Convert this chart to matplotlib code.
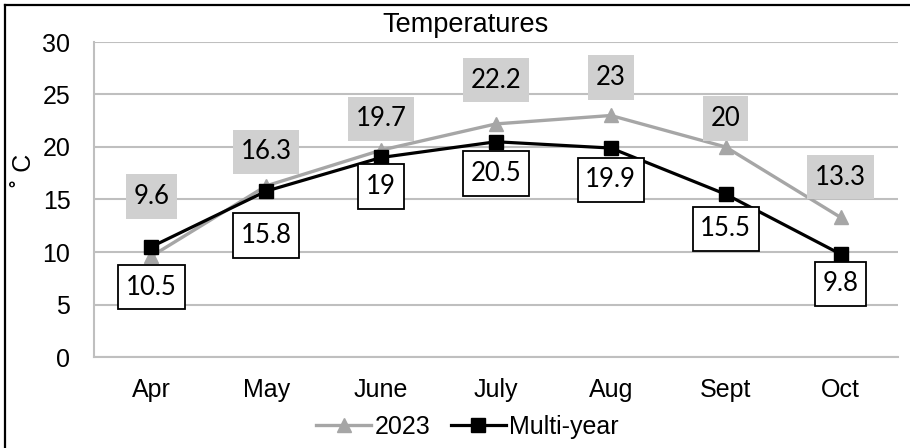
import matplotlib
matplotlib.use("Agg")
import matplotlib.pyplot as plt
from matplotlib.path import Path
from matplotlib.lines import Line2D

months = ["Apr", "May", "June", "July", "Aug", "Sept", "Oct"]
temp_2023 = [9.6, 16.3, 19.7, 22.2, 23, 20, 13.3]
temp_multi = [10.5, 15.8, 19, 20.5, 19.9, 15.5, 9.8]

# label offsets (points) above / below each marker
off_2023 = [43, 24.5, 22.5, 31.5, 27.5, 20.5, 29]
off_multi = [-29, -32, -21, -23, -23, -25, -21.5]

plt.rcParams["font.family"] = ["Liberation Sans", "DejaVu Sans"]


def label_box(x0, y0, width, height, mutation_size):
    """Rectangle with separate horizontal and vertical padding."""
    px = 0.30 * mutation_size
    py = 0.38 * mutation_size
    x1, y1 = x0 - px, y0 - py
    x2, y2 = x0 + width + px, y0 + height + py
    return Path([(x1, y1), (x2, y1), (x2, y2), (x1, y2), (x1, y1)],
                [Path.MOVETO, Path.LINETO, Path.LINETO, Path.LINETO, Path.CLOSEPOLY])


fig = plt.figure(figsize=(9.1, 4.48), dpi=100)
ax = fig.add_axes([94 / 910, 1 - 357 / 448, 804 / 910, 315 / 448])

x = list(range(len(months)))
grid_c = "#bfbfbf"
gray = "#a6a6a6"

ax.plot(x, temp_2023, color=gray, lw=2.4, marker="^", ms=10, mfc=gray, mec=gray,
        label="2023", zorder=3)
ax.plot(x, temp_multi, color="black", lw=2.3, marker="s", ms=10, mfc="black", mec="black",
        label="Multi-year", zorder=4)

label_font = dict(family=["Lato", "DejaVu Sans"], fontsize=18.5)
for xi, v, o in zip(x, temp_2023, off_2023):
    ax.annotate(f"{v:g}", (xi, v), xytext=(0, o), textcoords="offset points",
                ha="center", va="center", **label_font,
                bbox=dict(boxstyle=label_box, fc="#d0d0d0", ec="none"), zorder=5)
for xi, v, o in zip(x, temp_multi, off_multi):
    ax.annotate(f"{v:g}", (xi, v), xytext=(0, o), textcoords="offset points",
                ha="center", va="center", **label_font,
                bbox=dict(boxstyle=label_box, fc="white", ec="black", lw=1.3), zorder=6)

ax.set_xlim(-0.5, 6.5)
ax.set_ylim(0, 30)
ax.set_yticks(range(0, 31, 5))
ax.set_xticks(x)
ax.set_xticklabels(months)
ax.tick_params(axis="both", length=0, labelsize=18, colors="black")
ax.tick_params(axis="y", pad=17)
ax.tick_params(axis="x", pad=15)
ax.yaxis.grid(True, color=grid_c, lw=1.5)
ax.set_axisbelow(True)
for s in ["top", "right"]:
    ax.spines[s].set_visible(False)
for s in ["left", "bottom"]:
    ax.spines[s].set_color(grid_c)
    ax.spines[s].set_linewidth(1.5)

# y-axis unit label
fig.text(24 / 910, 1 - 170 / 448, "˚ C", rotation=90, ha="center", va="center", fontsize=18)

fig.text(466 / 910, 1 - 32 / 448, "Temperatures", ha="center", va="baseline", fontsize=19.5)

fig.legend(loc="center", bbox_to_anchor=(467.5 / 910, 1 - 426.5 / 448), ncol=2, frameon=False,
           fontsize=18, handlelength=2.2, handletextpad=0.15, columnspacing=0.8,
           borderpad=0.1)

# chart frame (top and left edges)
fig.add_artist(Line2D([5 / 910, 5 / 910], [0, 1 - 5 / 448], transform=fig.transFigure,
                      color="black", lw=1.6))
fig.add_artist(Line2D([5 / 910, 1], [1 - 5 / 448, 1 - 5 / 448], transform=fig.transFigure,
                      color="black", lw=1.6))

fig.savefig("out.png", dpi=100)
